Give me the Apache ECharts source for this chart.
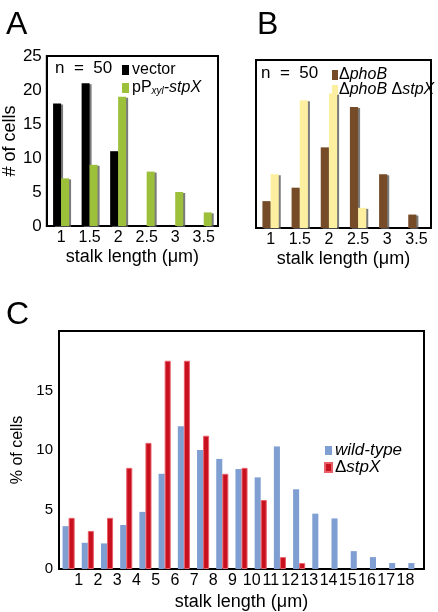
<!DOCTYPE html>
<html><head><meta charset="utf-8">
<script src="https://cdn.jsdelivr.net/npm/echarts@6/dist/echarts.min.js"></script>
<style>html,body{margin:0;padding:0;background:#fff}#c{width:438px;height:612px}</style>
</head><body><div id="c"></div>
<script>
// Panel A
const aCategories = ['1','1.5','2','2.5','3','3.5'];
const aVector = [18, 21, 11, 0, 0, 0];
const aStpX = [7, 9, 19, 8, 5, 2];
// Panel B
const bCategories = ['1','1.5','2','2.5','3','3.5'];
const bPhoB = [4, 6, 12, 18, 8, 2];
const bPhoBStpX = [8, 19, 20, 3, 0, 0];
// Panel C
const cCategories = ['','1','2','3','4','5','6','7','8','9','10','11','12','13','14','15','16','17','18'];
const cWildType = [3.6, 2.2, 2.15, 3.7, 4.8, 8.0, 12.0, 10.0, 9.25, 8.4, 7.7, 10.3, 6.7, 4.65, 4.25, 1.5, 1.0, 0.5, 0.5];
const cStpX = [4.3, 3.2, 4.3, 8.5, 10.6, 17.5, 17.5, 11.2, 8.0, 8.5, 5.8, 1.0, 0.5, 0, 0, 0, 0, 0, 0];

const nz = arr => arr.map(v => v === 0 ? null : v);
const F = 'Liberation Sans, Arial, sans-serif';
const chart = echarts.init(document.getElementById('c'), null, {renderer:'canvas'});
const gridBase = {show:true, borderColor:'#000', borderWidth:2, containLabel:false};
const shadowStyle = {shadowColor:'rgba(90,90,90,0.8)', shadowOffsetX:2, shadowOffsetY:1, shadowBlur:0};
const rich = {
  n:{fontFamily:F, fontSize:16, color:'#000'},
  it:{fontFamily:F, fontSize:16, fontStyle:'italic', color:'#000'},
  sub:{fontFamily:F, fontSize:10, fontStyle:'italic', color:'#000', padding:[6,0,0,0]},
  nc:{fontFamily:F, fontSize:17, color:'#000'},
  itc:{fontFamily:F, fontSize:17, fontStyle:'italic', color:'#000'}
};
function xAx(gi, cats, labelSize, labelPad){
  return {type:'category', gridIndex:gi, data:cats,
    axisLine:{lineStyle:{color:'#000', width:2}}, axisTick:{show:false},
    axisLabel:{fontFamily:F, fontSize:labelSize, color:'#000', margin:4, interval:0, padding:labelPad},
    name:'stalk length (\u03bcm)', nameLocation:'middle', nameGap: gi===2?24:22,
    nameTextStyle:{fontFamily:F, fontSize:18, color:'#000'}};
}
const opt = {
  animation:false,
  backgroundColor:'#fff',
  title:[
    {text:'A', left:1, top:4, textStyle:{fontFamily:F, fontSize:32, fontWeight:'normal', color:'#000'}},
    {text:'B', left:252, top:4, textStyle:{fontFamily:F, fontSize:32, fontWeight:'normal', color:'#000'}},
    {text:'C', left:1, top:294, textStyle:{fontFamily:F, fontSize:32, fontWeight:'normal', color:'#000'}},
    {text:'n  =  50', left:50, top:55, textStyle:{fontFamily:F, fontSize:17, fontWeight:'normal', color:'#000'}},
    {text:'n  =  50', left:256, top:60, textStyle:{fontFamily:F, fontSize:17, fontWeight:'normal', color:'#000'}}
  ],
  legend:[
    {data:['vector','pPxyl-stpX'], orient:'vertical', left:117, top:57, itemWidth:7, itemHeight:10, itemGap:2,
     icon:'rect', textStyle:{fontFamily:F, fontSize:16, color:'#000', rich:rich, padding:[0,0,0,-2]},
     formatter:function(n){return n==='vector'?'{n|vector}':'{n|pP}{sub|xyl}{it|-stpX}';}},
    {data:['phoB','phoB stpX'], orient:'vertical', left:327, top:62, itemWidth:6, itemHeight:10, itemGap:-1,
     icon:'rect', textStyle:{fontFamily:F, fontSize:16, color:'#000', rich:rich, padding:[0,0,0,-4]},
     formatter:function(n){return n==='phoB'?'{n|\u0394}{it|phoB}':'{n|\u0394}{it|phoB} {n|\u0394}{it|stpX}';}},
    {data:['wild-type','stpX'], orient:'vertical', left:319, top:437, itemWidth:7, itemHeight:9, itemGap:0,
     icon:'rect', textStyle:{fontFamily:F, fontSize:17, color:'#000', rich:rich, padding:[0,0,0,-2]},
     formatter:function(n){return n==='wild-type'?'{itc|wild-type}':'{nc|\u0394}{itc|stpX}';}}
  ],
  grid:[
    Object.assign({left:46, top:56, width:172, height:170}, gridBase),
    Object.assign({left:256, top:60, width:175, height:168}, gridBase),
    Object.assign({left:59, top:331, width:365, height:243}, gridBase)
  ],
  xAxis:[
    xAx(0, aCategories, 16, [0,0,0,0]),
    xAx(1, bCategories, 16, [0,0,0,0]),
    xAx(2, cCategories, 16, [0,18,0,0])
  ],
  yAxis:[
    {type:'value', gridIndex:0, min:0, max:25, interval:5, splitLine:{show:false},
     axisLine:{show:true, lineStyle:{color:'#000', width:2}}, axisTick:{show:false},
     axisLabel:{fontFamily:F, fontSize:17, color:'#000', margin:5},
     name:'# of cells', nameLocation:'middle', nameGap:24, nameRotate:90,
     nameTextStyle:{fontFamily:F, fontSize:18, color:'#000'}},
    {type:'value', gridIndex:1, min:0, max:25, interval:5, splitLine:{show:false},
     axisLine:{show:true, lineStyle:{color:'#000', width:2}}, axisTick:{show:false}, axisLabel:{show:false}},
    {type:'value', gridIndex:2, min:0, max:20, interval:5, splitLine:{show:false},
     axisLine:{show:true, lineStyle:{color:'#000', width:2}}, axisTick:{show:false},
     axisLabel:{fontFamily:F, fontSize:15, color:'#000', margin:6, formatter:function(v){return v===20?'':v;}},
     name:'% of cells', nameLocation:'middle', nameGap:20, nameRotate:90,
     nameTextStyle:{fontFamily:F, fontSize:16, color:'#000'}}
  ],
  series:[
    {name:'vector', type:'bar', xAxisIndex:0, yAxisIndex:0, data:nz(aVector), barGap:'0%', barCategoryGap:'44%',
     itemStyle:Object.assign({color:'#000'}, shadowStyle)},
    {name:'pPxyl-stpX', type:'bar', xAxisIndex:0, yAxisIndex:0, data:nz(aStpX),
     itemStyle:Object.assign({color:'#9cc03a'}, shadowStyle)},
    {name:'phoB', type:'bar', xAxisIndex:1, yAxisIndex:1, data:nz(bPhoB), barGap:'0%', barCategoryGap:'44%',
     itemStyle:Object.assign({color:'#764b28'}, shadowStyle)},
    {name:'phoB stpX', type:'bar', xAxisIndex:1, yAxisIndex:1, data:nz(bPhoBStpX),
     itemStyle:Object.assign({color:'#fcf0a0'}, shadowStyle)},
    {name:'wild-type', type:'bar', xAxisIndex:2, yAxisIndex:2, data:nz(cWildType), barGap:'0%', barCategoryGap:'37%',
     itemStyle:{color:'#7f9ed2'}},
    {name:'stpX', type:'bar', xAxisIndex:2, yAxisIndex:2, data:nz(cStpX),
     itemStyle:{color:'#c8101e', borderColor:'#e8606a', borderWidth:1}}
  ]
};
chart.setOption(opt);
</script></body></html>
